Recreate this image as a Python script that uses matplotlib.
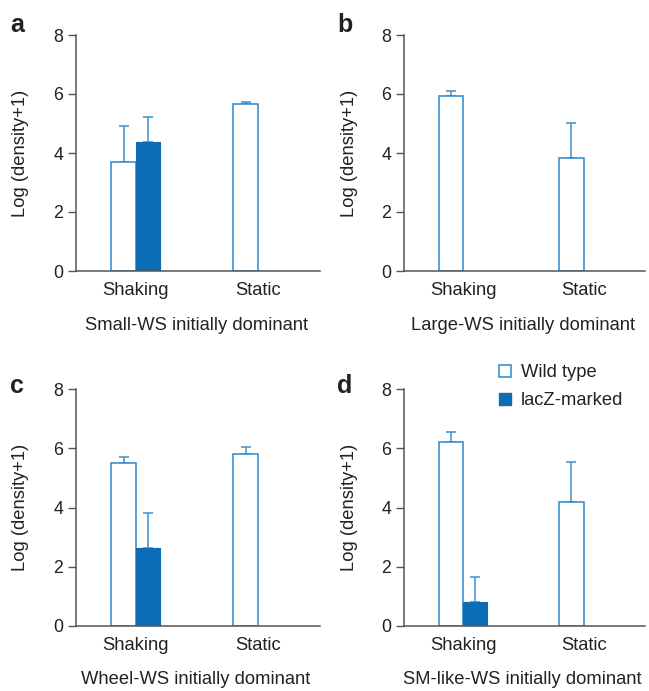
import matplotlib
matplotlib.use("Agg")
import matplotlib.pyplot as plt
import numpy as np
from matplotlib.lines import Line2D

plt.rcParams['font.family'] = ['Liberation Sans', 'DejaVu Sans']

conditions = ["Shaking", "Static"]
panel_letters = ["a", "b", "c", "d"]
panel_titles = ["Small-WS initially dominant", "Large-WS initially dominant",
                "Wheel-WS initially dominant", "SM-like-WS initially dominant"]

wt_mean = {"a": [3.70, 5.65], "b": [5.92, 3.82], "c": [5.50, 5.80], "d": [6.20, 4.20]}
wt_err = {"a": [1.20, 0.07], "b": [0.19, 1.21], "c": [0.20, 0.25], "d": [0.35, 1.35]}
lacz_mean = {"a": [4.37, 0.0], "b": [np.nan, np.nan], "c": [2.62, 0.0], "d": [0.82, 0.0]}
lacz_err = {"a": [0.86, 0.0], "b": [np.nan, np.nan], "c": [1.18, 0.0], "d": [0.83, 0.0]}

yticks = [0, 2, 4, 6, 8]
legend_labels = ["Wild type", "lacZ-marked"]

FILL = "#0a6db5"
EDGE = "#2e87cc"
ERR = "#3a8fd0"
AXC = "#555555"
TXT = "#222222"

W, H = 649, 691
fig = plt.figure(figsize=(W / 100, H / 100), dpi=100)

boxes = {
    "a": (76, 320, 35, 271),
    "b": (404, 645, 35, 271),
    "c": (76, 320, 389, 626),
    "d": (404, 645, 389, 626),
}
letter_pos = {"a": (10, 25), "b": (337, 25), "c": (10, 386), "d": (337, 386)}

FS = 13.2
bw = 0.2
for letter, title in zip(panel_letters, panel_titles):
    x0, x1, ytop, ybot = boxes[letter]
    ax = fig.add_axes([x0 / W, 1 - ybot / H, (x1 - x0) / W, (ybot - ytop) / H])
    x = np.arange(len(conditions))
    wm = np.array(wt_mean[letter]); we = np.array(wt_err[letter])
    lm = np.array(lacz_mean[letter]); le = np.array(lacz_err[letter])
    ax.bar(x - bw / 2, wm, bw, facecolor="white", edgecolor=EDGE, linewidth=1.1, zorder=2)
    ax.errorbar(x - bw / 2, wm, yerr=[np.zeros_like(we), we], fmt="none",
                ecolor=ERR, elinewidth=1.1, capsize=3.5, capthick=1.1, zorder=1)
    if not np.all(np.isnan(lm)):
        ax.bar(x + bw / 2, lm, bw, facecolor=FILL, edgecolor=FILL, linewidth=0.8, zorder=2)
        mask = le > 0
        ax.errorbar((x + bw / 2)[mask], lm[mask], yerr=[np.zeros(mask.sum()), le[mask]],
                    fmt="none", ecolor=ERR, elinewidth=1.1, capsize=3.5, capthick=1.1, zorder=1)
    ax.set_xlim(-0.49, 1.51)
    ax.set_ylim(0, 8)
    ax.set_yticks(yticks)
    ax.set_xticks(x)
    ax.set_xticklabels(conditions, fontsize=FS, color=TXT)
    ax.tick_params(axis="x", length=0, pad=8)
    ax.tick_params(axis="y", length=5.5, width=1, color=AXC, labelsize=12.8, labelcolor=TXT, pad=3.5)
    for s in ["top", "right"]:
        ax.spines[s].set_visible(False)
    for s in ["left", "bottom"]:
        ax.spines[s].set_color(AXC)
        ax.spines[s].set_linewidth(1.1)
    fig.text((x0 - 55) / W, 1 - (ytop + ybot) / 2 / H, "Log (density+1)", rotation=90,
             fontsize=FS, color=TXT, ha="center", va="center")
    fig.text((x0 + x1) / 2 / W - 0.003, 1 - (ybot + 54) / H, title,
             fontsize=FS, color=TXT, ha="center", va="center")
    lx, ly = letter_pos[letter]
    fig.text(lx / W, 1 - ly / H, letter, fontsize=18, fontweight="bold",
             color=TXT, va="center", ha="left")
    if letter == "d":
        handles = [Line2D([], [], marker="s", linestyle="none", markersize=8,
                          markerfacecolor="white", markeredgecolor=EDGE, markeredgewidth=1.1),
                   Line2D([], [], marker="s", linestyle="none", markersize=8,
                          markerfacecolor=FILL, markeredgecolor=FILL)]
        leg = fig.legend(handles, legend_labels, loc="center left",
                         bbox_to_anchor=(496 / W, 1 - 387 / H), frameon=False,
                         fontsize=FS, handletextpad=0.35, labelspacing=0.6,
                         handlelength=1.0, borderaxespad=0, borderpad=0)
        for t in leg.get_texts():
            t.set_color(TXT)

fig.savefig("out.png", dpi=100)
